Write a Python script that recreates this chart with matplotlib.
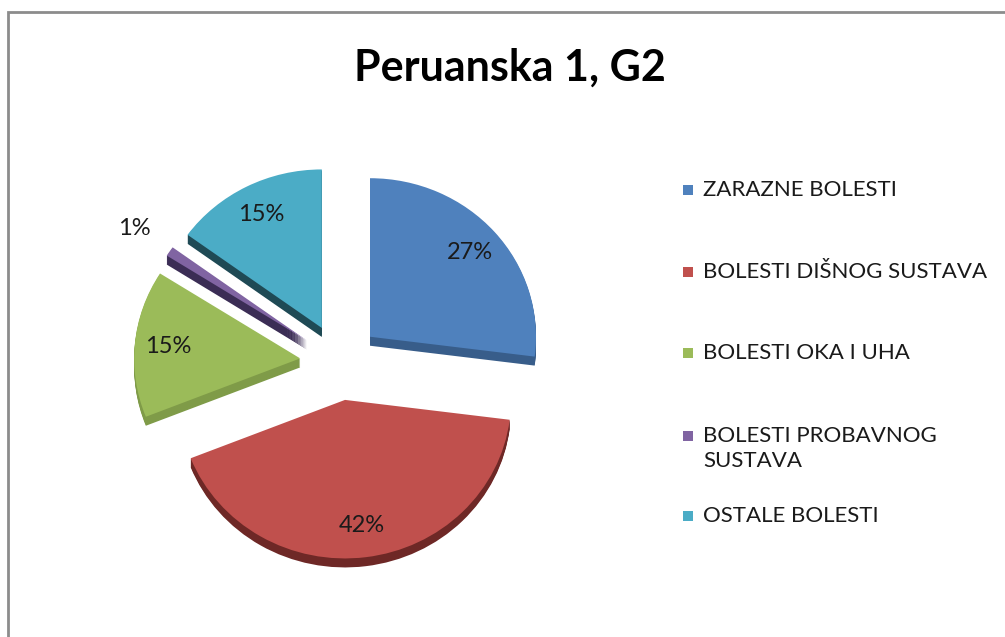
import matplotlib; matplotlib.use('Agg'); import matplotlib.pyplot as plt
from matplotlib.patches import Rectangle
from matplotlib.transforms import Affine2D
import numpy as np
plt.rcParams.update({'font.family': ['Lato', 'DejaVu Sans']})

# data
categories = ['ZARAZNE BOLESTI', 'BOLESTI DIŠNOG SUSTAVA', 'BOLESTI OKA I UHA',
              'BOLESTI PROBAVNOG\nSUSTAVA', 'OSTALE BOLESTI']
values = [27, 42, 15, 1, 15]
top_colors = ['#4F81BD', '#C0504D', '#9BBB59', '#8064A2', '#4BACC6']
side_colors = ['#385D8A', '#6E2826', '#7F9B48', '#3B2D55', '#1F4A55']

W, H = 1005, 637
fig = plt.figure(figsize=(W/100, H/100), dpi=100)
ax = fig.add_axes([0, 0, 1, 1])

CX, CY, R = 340, H - 362, 166   # pie centre in pixel-like units (y up)
TILT = 0.955                     # slight vertical squash of the 3d pie
DEPTH = 9
explode = [40] * len(values)    # pie's explode is in data units
tilt = Affine2D().translate(-CX, -CY).scale(1, TILT).translate(CX, CY) + ax.transData

# side walls: stacked copies of the pie shifted downwards
for k in range(DEPTH, 0, -1):
    ws, _ = ax.pie(values, colors=side_colors, startangle=90, counterclock=False, radius=R,
                   center=(CX, CY - k / TILT), explode=explode, wedgeprops=dict(lw=0))
    for w in ws:
        w.set_transform(tilt)

wedges, _, autotexts = ax.pie(values, colors=top_colors, startangle=90, counterclock=False,
                              radius=R, center=(CX, CY), explode=explode,
                              autopct='%1.0f%%', pctdistance=0.8,
                              wedgeprops=dict(lw=0),
                              textprops=dict(fontsize=17, color='#1a1a1a'))
for w, t, v in zip(wedges, autotexts, values):
    w.set_transform(tilt)
    t.set_transform(tilt)
    # small slice label goes outside
    if v < 5:
        a = np.deg2rad((w.theta1 + w.theta2) / 2)
        cx, cy = w.center
        t.set_position((cx + 1.26 * R * np.cos(a), cy + 1.26 * R * np.sin(a)))

ax.set_xlim(0, W); ax.set_ylim(0, H); ax.set_aspect('auto'); ax.axis('off')

# chart frame (left and top edges visible)
ax.plot([8, 8, W + 5], [-5, H - 12, H - 12], color='#8c8c8c', lw=2, solid_joinstyle='miter')

ax.text(510, H - 68, 'Peruanska 1, G2', ha='center', va='center', fontsize=31,
        fontweight='bold', color='black')

# legend
leg_y = [190, 272, 353, 436, 516]
for lab, col, y in zip(categories, top_colors, leg_y):
    ax.add_patch(Rectangle((683, H - y - 5), 10, 10, fc=col, ec='none'))
    ax.text(703, H - y + 10, lab, ha='left', va='top', fontsize=16, color='#1a1a1a',
            linespacing=1.3)

fig.savefig('out.png', dpi=100, facecolor='white')
